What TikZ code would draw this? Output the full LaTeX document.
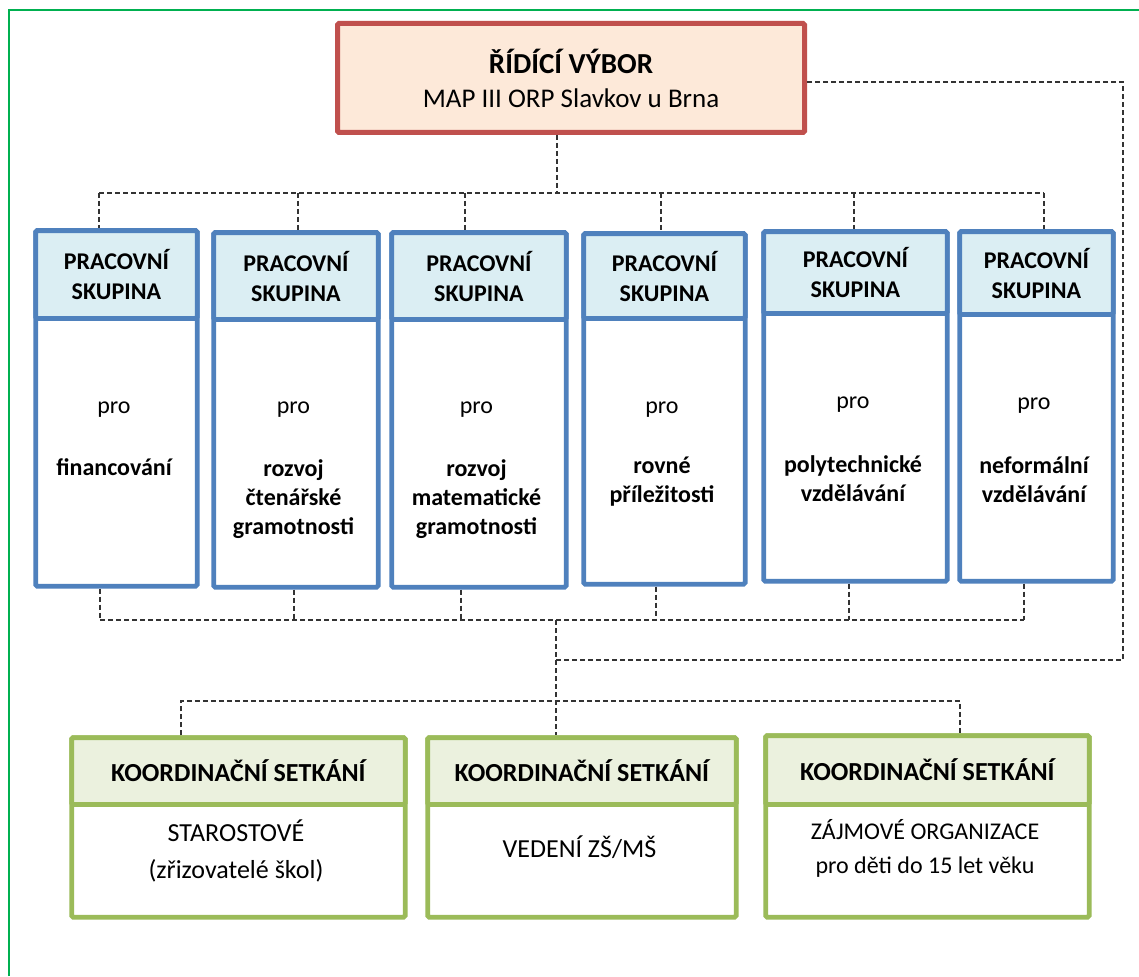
\documentclass[tikz,border=0pt]{standalone}
\usepackage{fontspec}
\setmainfont{Carlito}
\usetikzlibrary{calc}
\definecolor{redline}{HTML}{C0504D}
\definecolor{redfill}{HTML}{FDE9D9}
\definecolor{blueline}{HTML}{4F81BD}
\definecolor{bluefill}{HTML}{DBEEF3}
\definecolor{greenline}{HTML}{9BBB59}
\definecolor{greenfill}{HTML}{EBF1DE}
\definecolor{framegreen}{HTML}{00B050}
\definecolor{dashgray}{HTML}{333333}
% #1 name, #2 left, #3 right, #4 top, #5 header bottom, #6 bottom, #7 style prefix, #8 header text
\newcommand{\orgbox}[8]{%
  \pgfmathsetmacro{\obw}{#3-#2-4.5}%
  \pgfmathsetmacro{\obh}{#6-#4-4.5}%
  \pgfmathsetmacro{\ohh}{#5-#4-2.25}%
  \node[#7box, minimum width=\obw pt, minimum height=\obh pt, anchor=north west] (#1) at (#2+2.25,-#4-2.25) {};
  \node[#7head, minimum width=\obw pt, minimum height=\ohh pt, anchor=north west] (#1h) at (#2+2.25,-#4-2.25) {#8};
}
\begin{document}
\begin{tikzpicture}[x=1pt,y=1pt,
  redbox/.style={draw=redline, fill=redfill, line width=5pt, rounded corners=1.5pt, inner sep=0pt},
  bluebox/.style={draw=blueline, fill=white, line width=4.8pt, rounded corners=1.5pt, inner sep=0pt},
  bluehead/.style={draw=blueline, fill=bluefill, line width=4.8pt, rounded corners=1.5pt, inner sep=0pt,
    font=\bfseries\fontsize{24}{30}\selectfont, align=center},
  greenbox/.style={draw=greenline, fill=white, line width=4.8pt, rounded corners=1.5pt, inner sep=0pt},
  greenhead/.style={draw=greenline, fill=greenfill, line width=4.8pt, rounded corners=1.5pt, inner sep=0pt,
    font=\bfseries\fontsize{26}{30}\selectfont, align=center},
  conn/.style={draw=dashgray, line width=1.1pt, dash pattern=on 5pt off 3pt},
  protext/.style={font=\fontsize{24}{29}\selectfont, inner sep=0pt},
  topic/.style={font=\bfseries\fontsize{24}{29}\selectfont, align=center, inner sep=0pt},
  note/.style={font=\fontsize{26}{37}\selectfont, align=center, inner sep=0pt},
  notesmall/.style={font=\fontsize{24}{34}\selectfont, align=center, inner sep=0pt}
]
\useasboundingbox (0,0) rectangle (1139,-976);
\fill[white] (0,0) rectangle (1139,-976);
% outer green frame (only left and top edges lie inside the picture)
\draw[framegreen, line width=2.5pt] (9,-976) -- (9,-10) -- (1139,-10);

% steering committee
\node[redbox, minimum width=467pt, minimum height=109pt] (red) at (571,-78) {};
\node[font=\fontsize{27}{34}\selectfont, align=center, inner sep=0pt] (redtxt) at (571,-78)
  {{\fontsize{29}{34}\selectfont\bfseries ŘÍDÍCÍ VÝBOR}\\MAP III ORP Slavkov u Brna};

% working groups
\orgbox{b1}{31}{197}{226}{316}{586}{blue}{PRACOVNÍ\\SKUPINA}
\orgbox{b2}{209}{378}{228}{317}{587}{blue}{PRACOVNÍ\\SKUPINA}
\orgbox{b3}{387}{566}{228}{317}{587}{blue}{PRACOVNÍ\\SKUPINA}
\orgbox{b4}{579}{745}{229}{316}{584}{blue}{PRACOVNÍ\\SKUPINA}
\orgbox{b5}{759}{947}{227}{311}{581}{blue}{PRACOVNÍ\\SKUPINA}
\orgbox{b6}{955}{1113}{227}{312}{581}{blue}{PRACOVNÍ\\SKUPINA}

\node[protext] (p1) at (114,-410) {pro};
\node[protext] (p2) at (293.5,-410) {pro};
\node[protext] (p3) at (476.5,-410) {pro};
\node[protext] (p4) at (662,-410) {pro};
\node[protext] (p5) at (853,-405) {pro};
\node[protext] (p6) at (1034,-406) {pro};

\node[topic] (s1) at (114,-467) {financování};
\node[topic] (s2) at (293.5,-499) {rozvoj\\čtenářské\\gramotnosti};
\node[topic] (s3) at (476.5,-499) {rozvoj\\matematické\\gramotnosti};
\node[topic] (s4) at (662,-482) {rovné\\příležitosti};
\node[topic] (s5) at (853,-479) {polytechnické\\vzdělávání};
\node[topic] (s6) at (1034,-480) {neformální\\vzdělávání};

% coordination meetings
\orgbox{g1}{67}{405}{733}{802}{917}{green}{KOORDINAČNÍ SETKÁNÍ}
\orgbox{g2}{423}{736}{733}{802}{917}{green}{KOORDINAČNÍ SETKÁNÍ}
\orgbox{g3}{761}{1089}{731}{802}{917}{green}{KOORDINAČNÍ SETKÁNÍ}

\node[note] (n1) at (236,-851) {STAROSTOVÉ\\(zřizovatelé škol)};
\node[note] (n2) at (579.5,-847) {VEDENÍ ZŠ/MŠ};
\node[notesmall] (n3) at (925,-848) {ZÁJMOVÉ ORGANIZACE\\pro děti do 15 let věku};

% connectors: committee to working groups
\coordinate (rd) at (557,-193);
\draw[conn] (rd |- red.south) -- (rd);
\coordinate (tbL) at (99,-193);
\coordinate (tbR) at (1044,-193);
\draw[conn] (tbL) -- (tbR);
\foreach \n/\x in {b1/99,b2/298,b3/465,b4/661,b5/854,b6/1044}{
  \coordinate (t\n) at (\x,-193);
  \draw[conn] (t\n) -- (t\n |- \n.north);
}
% working groups to lower bus
\foreach \n/\x in {b1/100,b2/294,b3/461,b4/656,b5/849,b6/1024}{
  \coordinate (u\n) at (\x,-620);
  \draw[conn] (u\n |- \n.south) -- (u\n);
}
\draw[conn] (ub1) -- (ub6);
\coordinate (mid) at (556,-620);
\draw[conn] (mid) -- (mid |- g2.north);
% loop back to the committee
\coordinate (sl) at (556,-660);
\coordinate (sr) at (1123,-660);
\coordinate (st) at (1123,-82);
\draw[conn] (sl) -- (sr) -- (st) -- (st -| red.east);
% bus to coordination meetings
\coordinate (l1) at (181,-701);
\coordinate (l3) at (960,-701);
\draw[conn] (l1 |- g1.north) -- (l1) -- (l3) -- (l3 |- g3.north);
\end{tikzpicture}
\end{document}
